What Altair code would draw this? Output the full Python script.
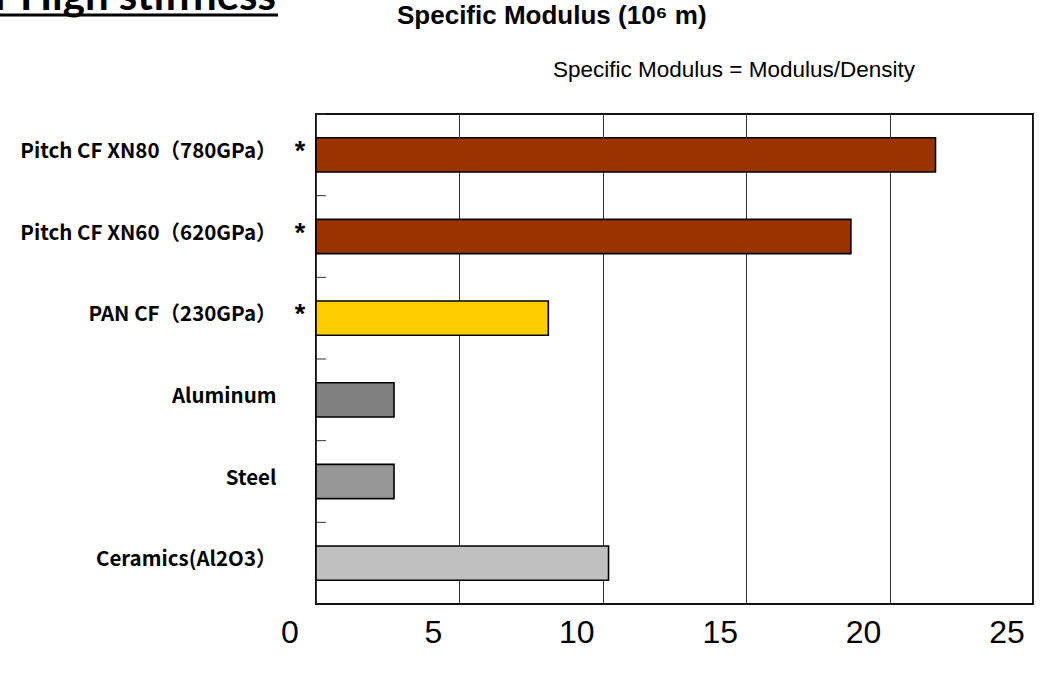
import altair as alt
import pandas as pd

# ---- data ----
categories = ["Pitch CF XN80（780GPa）", "Pitch CF XN60（620GPa）", "PAN CF（230GPa）",
              "Aluminum", "Steel", "Ceramics(Al2O3）"]
values = [21.6, 18.65, 8.1, 2.72, 2.72, 10.2]
colors = ["#993300", "#993300", "#FFCC00", "#808080", "#969696", "#C0C0C0"]
stars = ["*", "*", "*", "", "", ""]
x_ticks = [0, 5, 10, 15, 20, 25]
title_text = ["Specific Modulus (10⁶ m)"]
subtitle_text = ["Specific Modulus  = Modulus/Density"]
slide_title = ["for High stiffness"]

df = pd.DataFrame({"material": categories, "value": values, "color": colors, "star": stars})
tick_df = pd.DataFrame({"tick": x_ticks})

W, H = 717, 490
PL, PT = 316, 114

xscale = alt.Scale(domain=[0, 25], nice=False, zero=True)
yscale = alt.Scale(domain=categories, paddingInner=0, paddingOuter=0)

xaxis = alt.Axis(values=x_ticks, grid=True, gridColor="#333333", gridWidth=1, ticks=False,
                 domain=False, title=None, labels=False)
yaxis = alt.Axis(ticks=False, domain=False, title=None, labelFont="Noto Sans CJK JP",
                 labelFontSize=20.5, labelColor="#000000", labelPadding=40, labelAlign="right",
                 labelFontWeight="bold", labelLimit=400, labelOffset=-3)

base = alt.Chart(df)

bars = base.mark_bar(stroke="#000000", strokeWidth=1.6, height={"band": 0.42}).encode(
    x=alt.X("value:Q", scale=xscale, axis=xaxis),
    y=alt.Y("material:N", scale=yscale, axis=yaxis),
    color=alt.Color("color:N", scale=None),
)

ticks = base.mark_rule(color="#333333", strokeWidth=1).encode(
    y=alt.Y("material:N", scale=yscale, axis=yaxis, bandPosition=0),
    x=alt.value(0),
    x2=alt.value(10),
)

star_marks = base.mark_text(fontSize=27, fontWeight="bold", font="Liberation Sans",
                            color="#000000", align="center", baseline="middle", dy=-3).encode(
    y=alt.Y("material:N", scale=yscale, axis=yaxis),
    x=alt.value(-16),
    text="star:N",
)

xlabels = alt.Chart(tick_df).mark_text(
    font="Liberation Sans Narrow, Liberation Sans", fontSize=32, color="#000000",
    align="center", baseline="middle", dx=-26).encode(
    x=alt.X("tick:Q", scale=xscale, axis=xaxis),
    y=alt.value(H + 29),
    text="tick:Q",
)

title_mark = alt.Chart(pd.DataFrame({"t": title_text})).mark_text(
    font="Liberation Sans", fontSize=26, fontWeight="bold", align="left", baseline="middle",
    color="#000000").encode(x=alt.value(397 - PL), y=alt.value(16 - PT), text="t:N")

subtitle_mark = alt.Chart(pd.DataFrame({"t": subtitle_text})).mark_text(
    font="Liberation Sans", fontSize=22.5, align="left", baseline="middle",
    color="#000000").encode(x=alt.value(553 - PL), y=alt.value(70 - PT), text="t:N")

slide_mark = alt.Chart(pd.DataFrame({"t": slide_title})).mark_text(
    font="Lato", fontSize=42, fontWeight="bold", align="right", baseline="alphabetic",
    color="#000000").encode(x=alt.value(276 - PL), y=alt.value(10 - PT), text="t:N")

underline = alt.Chart(pd.DataFrame({"t": slide_title})).mark_rule(
    color="#000000", strokeWidth=3).encode(
    x=alt.value(0 - PL), x2=alt.value(278 - PL), y=alt.value(15 - PT))

chart = alt.layer(bars, ticks, star_marks, xlabels, title_mark, subtitle_mark, slide_mark,
                  underline).properties(
    width=W, height=H,
    autosize=alt.AutoSizeParams(type="none"),
    padding={"left": PL, "top": PT, "right": 1053 - PL - W, "bottom": 673 - PT - H},
    background="#ffffff",
).configure_view(stroke="#111111", strokeWidth=2)

chart.save("out.html", embed_options={"renderer": "svg", "actions": False})
